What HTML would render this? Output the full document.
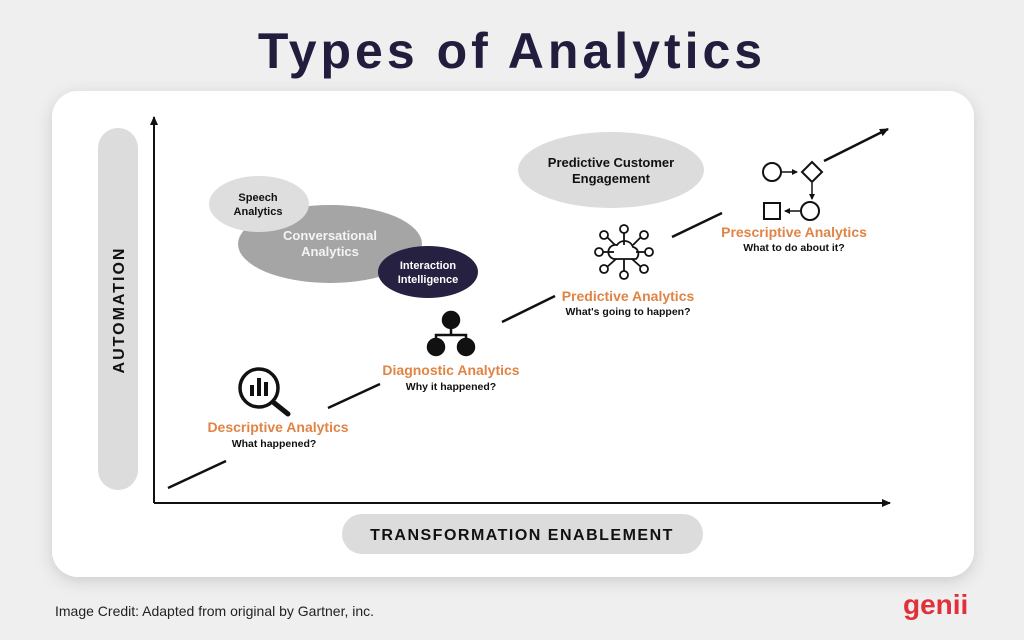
<!DOCTYPE html>
<html><head><meta charset="utf-8"><style>
html,body{margin:0;padding:0;width:1024px;height:640px;overflow:hidden;background:#efefef;font-family:"Liberation Sans",sans-serif}
</style></head><body>
<svg width="1024" height="640" viewBox="0 0 1024 640" xmlns="http://www.w3.org/2000/svg" font-family="Liberation Sans, sans-serif">
<defs><marker id="ah" markerWidth="10" markerHeight="10" refX="8" refY="5" orient="auto" markerUnits="userSpaceOnUse"><path d="M0,1 L9,5 L0,9 z" fill="#111"/></marker>
<marker id="sa" markerWidth="6" markerHeight="6" refX="5" refY="3" orient="auto" markerUnits="userSpaceOnUse"><path d="M0,0 L6,3 L0,6 z" fill="#111"/></marker>
<filter id="sh" x="-10%" y="-10%" width="120%" height="130%"><feDropShadow dx="0" dy="4" stdDeviation="8" flood-color="#000" flood-opacity="0.15"/></filter></defs>
<rect width="1024" height="640" fill="#efefef"/>
<text x="512" y="68" text-anchor="middle" font-size="50" font-weight="bold" fill="#231d3d" letter-spacing="4">Types of Analytics</text>
<rect x="52" y="91" width="922" height="486" rx="26" fill="#fff" filter="url(#sh)"/>
<rect x="98" y="128" width="40" height="362" rx="20" fill="#dcdcdc"/>
<text transform="translate(124,310) rotate(-90)" text-anchor="middle" font-size="16" font-weight="bold" letter-spacing="2" fill="#111">AUTOMATION</text>
<rect x="342" y="514" width="361" height="40" rx="20" fill="#dcdcdc"/>
<text x="522" y="540" text-anchor="middle" font-size="16" font-weight="bold" letter-spacing="1.5" fill="#111">TRANSFORMATION ENABLEMENT</text>
<line x1="154" y1="503" x2="154" y2="117" stroke="#111" stroke-width="2" marker-end="url(#ah)"/>
<line x1="154" y1="503" x2="890" y2="503" stroke="#111" stroke-width="2" marker-end="url(#ah)"/>
<g stroke="#111" stroke-width="2.5"><line x1="168" y1="488" x2="226" y2="461"/><line x1="328" y1="408" x2="380" y2="384"/><line x1="502" y1="322" x2="555" y2="296"/><line x1="672" y1="237" x2="722" y2="213"/><line x1="824" y1="161" x2="888" y2="129" marker-end="url(#ah)"/></g>
<ellipse cx="330" cy="244" rx="92" ry="39" fill="#a5a5a5"/>
<ellipse cx="259" cy="204" rx="50" ry="28" fill="#dedede"/>
<ellipse cx="428" cy="272" rx="50" ry="26" fill="#262041"/>
<ellipse cx="611" cy="170" rx="93" ry="38" fill="#dcdcdc"/>
<g font-weight="bold" text-anchor="middle">
<text x="258" y="201" font-size="11" fill="#111">Speech</text><text x="258" y="215" font-size="11" fill="#111">Analytics</text>
<text x="330" y="240" font-size="13" fill="#f4f4f4">Conversational</text><text x="330" y="256" font-size="13" fill="#f4f4f4">Analytics</text>
<text x="428" y="269" font-size="11" fill="#fff">Interaction</text><text x="428" y="283" font-size="11" fill="#fff">Intelligence</text>
<text x="611" y="167" font-size="13" fill="#111">Predictive Customer</text><text x="611" y="183" font-size="13" fill="#111">Engagement</text>
<text x="278" y="432" font-size="14" fill="#e08445">Descriptive Analytics</text><text x="274" y="447" font-size="10.5" fill="#111">What happened?</text>
<text x="451" y="375" font-size="14" fill="#e08445">Diagnostic Analytics</text><text x="451" y="390" font-size="10.5" fill="#111">Why it happened?</text>
<text x="628" y="301" font-size="14" fill="#e08445">Predictive Analytics</text><text x="628" y="315" font-size="10.5" fill="#111">What's going to happen?</text>
<text x="794" y="237" font-size="14" fill="#e08445">Prescriptive Analytics</text><text x="794" y="251" font-size="10.5" fill="#111">What to do about it?</text>
</g>
<g fill="none" stroke="#111" stroke-width="3.5"><circle cx="259" cy="388" r="19"/><line x1="273" y1="402" x2="288" y2="414" stroke-width="5" stroke-linecap="round"/></g>
<g fill="#111"><rect x="250" y="385" width="4" height="11"/><rect x="257" y="378" width="4" height="18"/><rect x="264" y="382" width="4" height="14"/></g>
<g fill="#111" stroke="#111" stroke-width="2.5"><circle cx="451" cy="320" r="8"/><circle cx="436" cy="347" r="8"/><circle cx="466" cy="347" r="8"/><path d="M451,328 V335 M436,339 V335 H466 V339" fill="none"/></g>
<g fill="none" stroke="#111" stroke-width="1.8">
<path d="M614,259 h22 a7,7 0 0 0 -3,-12 a9,9 0 0 0 -16,-2 a7,7 0 0 0 -3,14 z"/>
<line x1="624" y1="245" x2="624" y2="233"/><circle cx="624" cy="229" r="4"/>
<line x1="624" y1="259" x2="624" y2="271"/><circle cx="624" cy="275" r="4"/>
<line x1="614" y1="252" x2="603" y2="252"/><circle cx="599" cy="252" r="4"/>
<line x1="636" y1="252" x2="645" y2="252"/><circle cx="649" cy="252" r="4"/>
<line x1="615" y1="245" x2="607" y2="237"/><circle cx="604" cy="235" r="4"/>
<line x1="633" y1="245" x2="641" y2="237"/><circle cx="644" cy="235" r="4"/>
<line x1="616" y1="259" x2="607" y2="267"/><circle cx="604" cy="269" r="4"/>
<line x1="632" y1="259" x2="641" y2="267"/><circle cx="644" cy="269" r="4"/>
</g>
<g fill="none" stroke="#111" stroke-width="2"><circle cx="772" cy="172" r="9"/><path d="M812,162 l10,10 l-10,10 l-10,-10 z"/><rect x="764" y="203" width="16" height="16"/><circle cx="810" cy="211" r="9"/>
<line x1="782" y1="172" x2="797" y2="172" stroke-width="1.5" marker-end="url(#sa)"/>
<line x1="812" y1="183" x2="812" y2="199" stroke-width="1.5" marker-end="url(#sa)"/>
<line x1="800" y1="211" x2="785" y2="211" stroke-width="1.5" marker-end="url(#sa)"/></g>
<text x="55" y="616" font-size="14" fill="#222">Image Credit: Adapted from original by Gartner, inc.</text>
<text x="903" y="614" font-size="28" font-weight="bold" fill="#e0303a">genii</text>
</svg>
</body></html>
